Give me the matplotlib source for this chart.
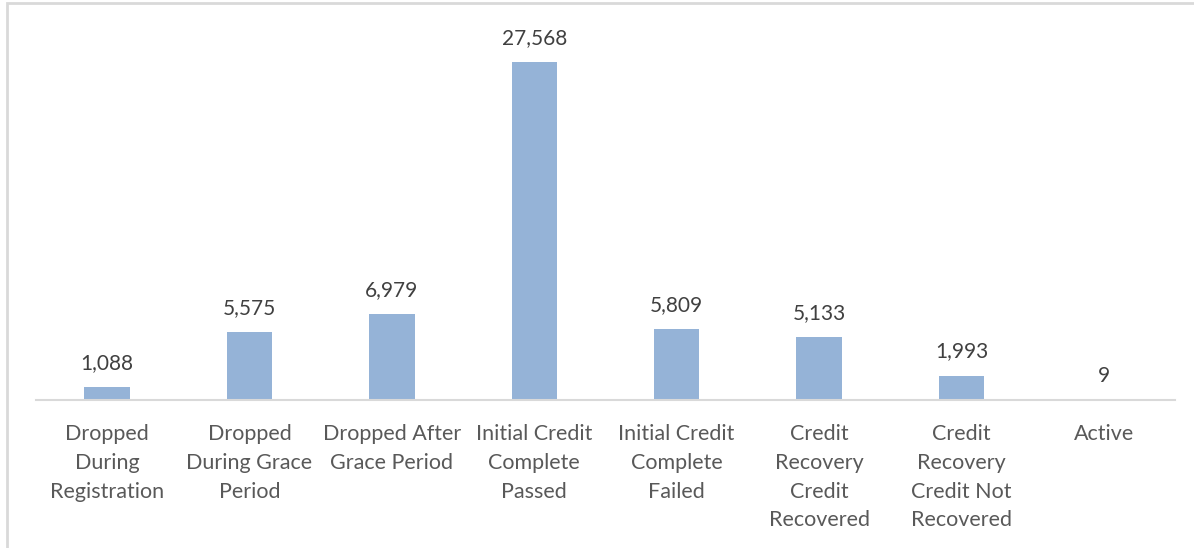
import matplotlib.pyplot as plt
import numpy as np

categories = [
    "Dropped\nDuring\nRegistration",
    "Dropped\nDuring Grace\nPeriod",
    "Dropped After\nGrace Period",
    "Initial Credit\nComplete\nPassed",
    "Initial Credit\nComplete\nFailed",
    "Credit\nRecovery\nCredit\nRecovered",
    "Credit\nRecovery\nCredit Not\nRecovered",
    "Active",
]
counts = [1088, 5575, 6979, 27568, 5809, 5133, 1993, 9]

W, H = 1194, 548
fig = plt.figure(figsize=(W / 100, H / 100), dpi=100)
plt.rcParams['font.family'] = ['Lato', 'DejaVu Sans']

# outer chart frame (cut off at right and bottom like the screenshot)
fig.patches.append(plt.Rectangle((7 / W, -0.1), 1.2, (H - 3) / H + 0.1,
                                 transform=fig.transFigure, fill=False,
                                 edgecolor="#d9d9d9", linewidth=2))

left, right, base, top = 36, 1175, 400, 20
ax = fig.add_axes([left / W, (H - base) / H, (right - left) / W, (base - top) / H])
x = np.arange(len(categories))
px_per_unit = (400 - 62) / 27568
ymax = (base - top) / px_per_unit
ax.bar(x, counts, width=0.32, color="#95b3d7")
ax.set_xlim(-0.5, len(categories) - 0.5)
ax.set_ylim(0, ymax)

for xi, v in zip(x, counts):
    ax.annotate(f"{v:,}", (xi, v), xytext=(0, 14), textcoords="offset pixels",
                ha="center", va="bottom", fontsize=15, color="#404040")

for s in ["top", "right", "left"]:
    ax.spines[s].set_visible(False)
ax.spines["bottom"].set_color("#d9d9d9")
ax.spines["bottom"].set_linewidth(1.5)
ax.set_yticks([])
ax.set_xticks(x)
ax.set_xticklabels(categories, fontsize=15.5, color="#595959", linespacing=1.56)
ax.tick_params(axis="x", length=0, pad=17)

fig.savefig("out.png", dpi=100)
